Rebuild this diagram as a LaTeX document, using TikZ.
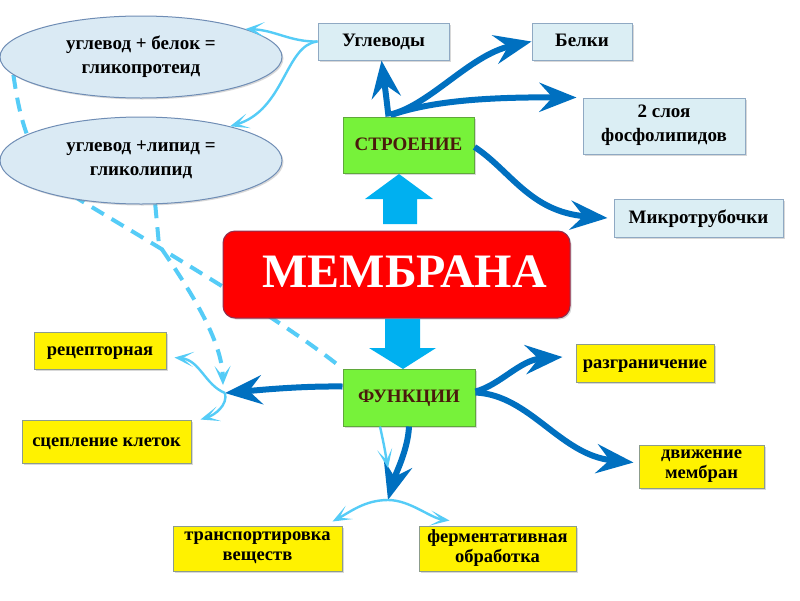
\documentclass[tikz,border=0pt]{standalone}
\usepackage{fontspec}
\setmainfont{Liberation Serif}
\usetikzlibrary{arrows.meta,shadows,shapes.geometric}
\definecolor{darkblue}{HTML}{0070C0}
\definecolor{lightblue}{HTML}{55CCF7}
\definecolor{blockblue}{HTML}{00B0F0}
\definecolor{boxblue}{HTML}{DBEEF4}
\definecolor{boxblueborder}{HTML}{8FA9C3}
\definecolor{ellfill}{HTML}{DAEAF4}
\definecolor{ellborder}{HTML}{6F8DB5}
\definecolor{greenfill}{HTML}{77F23A}
\definecolor{greenborder}{HTML}{5FA83A}
\definecolor{greentext}{HTML}{4A1A0C}
\definecolor{yellowborder}{HTML}{8C9C8C}
\definecolor{redborder}{HTML}{8E3050}
\newcommand\mystrutA{\rule[-5pt]{0pt}{20.6pt}}
\newcommand\mystrutB{\rule[-5pt]{0pt}{16.6pt}}
\pgfdeclarelayer{bg}
\pgfsetlayers{bg,main}
\begin{document}
\begin{tikzpicture}[x=1pt,y=-1pt,
  txt/.style={font=\bfseries\fontsize{19}{24}\selectfont, align=center, inner sep=0pt,
    execute at begin node=\mystrutA, execute at end node=\mystrutA},
  shad/.style={drop shadow={shadow xshift=1.5pt,shadow yshift=-1.5pt,opacity=0.3}},
  bluebox/.style={txt, draw=boxblueborder, fill=boxblue, line width=1pt, shad},
  greenbox/.style={txt, text=greentext, draw=greenborder, fill=greenfill, line width=1pt, shad},
  yellowbox/.style={txt, font=\bfseries\fontsize{18.5}{20}\selectfont, draw=yellowborder, fill=yellow, line width=1pt, shad,
    execute at begin node=\mystrutB, execute at end node=\mystrutB},
  ellbox/.style={txt, ellipse, draw=ellborder, fill=ellfill, line width=1pt, shad},
  darkarrow/.style={draw=darkblue, line width=6pt, -{Stealth[length=37pt,width=29pt,inset=13pt]}},
  lightarrow/.style={draw=lightblue, line width=2.4pt, -{Stealth[length=19pt,width=15pt,inset=11pt]}},
  dashline/.style={draw=lightblue, line width=4pt, dash pattern=on 14pt off 9pt},
  blockarrow/.style={fill=blockblue, draw=none}
]
\useasboundingbox (0,0) rectangle (800,600);

% nodes
\node[ellbox, minimum width=282pt, minimum height=82pt] (ell1) at (141,57) {углевод + белок =\\гликопротеид};
\node[ellbox, minimum width=282pt, minimum height=87pt] (ell2) at (141,160.5) {углевод +липид =\\гликолипид};
\node[bluebox, minimum width=131pt, minimum height=37pt] (ugl) at (383.5,41.5) {Углеводы};
\node[bluebox, minimum width=100pt, minimum height=37pt] (belki) at (582,41.5) {Белки};
\node[bluebox, minimum width=162pt, minimum height=56pt] (sloi) at (664,126) {2 слоя\\фосфолипидов};
\node[bluebox, minimum width=169pt, minimum height=38pt] (mikro) at (698.5,218) {Микротрубочки};
\node[greenbox, minimum width=131pt, minimum height=56pt] (stroen) at (408.5,145) {СТРОЕНИЕ};
\node[greenbox, minimum width=132pt, minimum height=57pt] (func) at (409,397.5) {ФУНКЦИИ};
\node[yellowbox, minimum width=138pt, minimum height=38pt] (razgr) at (645,363) {разграничение};
\node[yellowbox, minimum width=125pt, minimum height=43pt] (dvizh) at (701.5,466.5) {движение\\мембран};
\node[yellowbox, minimum width=132pt, minimum height=37pt] (recep) at (100,350.5) {рецепторная};
\node[yellowbox, minimum width=169pt, minimum height=43pt] (scepl) at (106.5,441.5) {сцепление клеток};
\node[yellowbox, minimum width=169pt, minimum height=45pt] (transp) at (257.5,548.5) {транспортировка\\веществ};
\node[yellowbox, minimum width=157pt, minimum height=45pt] (ferm) at (497.5,548.5) {ферментативная\\обработка};
\node[draw=redborder, fill=red, line width=1pt, rounded corners=12pt, minimum width=347pt, minimum height=87pt,
      inner sep=0pt, text height=34pt, text depth=9pt, text=white, font=\bfseries\fontsize{48}{50}\selectfont, shad] (membr) at (396.5,274.5) {\hspace{16pt}МЕМБРАНА};

% junction coordinates
\coordinate (j1) at (225,393);
\coordinate (j1d) at (223,385);
\coordinate (j2) at (388,500);
\coordinate (l1end) at (388,468);

% block arrows
\fill[blockarrow] (383,224) -- (383,199) -- (365,199) -- (399,174) -- (433,199) -- (417,199) -- (417,224) -- cycle;
\fill[blockarrow] (385,319) -- (385,348) -- (369,348) -- (403,369) -- (436,348) -- (420,348) -- (420,319) -- cycle;

% dashed lines (behind)
\begin{pgfonlayer}{bg}
\fill[white] (0,0) rectangle (800,600);
\draw[dashline] (ell1.188) .. controls (20,120) and (30,170) .. (80,200)
   .. controls (180,260) and (283,321) .. (func.north west);
\draw[dashline, -{Stealth[length=19pt,width=16pt,inset=10pt]}] (ell2.288) -- (159,245)
   .. controls (190,290) and (222,340) .. (j1d);
\end{pgfonlayer}

% dark blue arrows from СТРОЕНИЕ
\draw[darkarrow] ([xshift=-20pt]stroen.north) .. controls (386,95) .. ([xshift=-2pt]ugl.south);
\draw[darkarrow] ([xshift=-18pt,yshift=2pt]stroen.north) .. controls (430,105) and (470,55) .. (belki.west);
\draw[darkarrow] ([xshift=-16pt,yshift=2pt]stroen.north) .. controls (430,102) and (480,97) .. ([xshift=-6pt]sloi.north west);
\draw[darkarrow] ([yshift=-2pt]stroen.east) .. controls (510,170) and (530,212) .. ([xshift=-6pt]mikro.west);

% dark blue arrows from ФУНКЦИИ
\draw[darkarrow] ([yshift=11pt]func.west) .. controls (300,386) and (260,390) .. (j1);
\draw[darkarrow] ([yshift=6pt]func.east) .. controls (500,385) and (520,360) .. ([xshift=-13pt,yshift=6pt]razgr.west);
\draw[darkarrow] ([yshift=5pt]func.east) .. controls (530,395) and (560,455) .. ([xshift=-5pt,yshift=4pt]dvizh.west);
\draw[darkarrow] (func.south) .. controls (408,450) and (395,475) .. (j2);

% light blue arrows
\draw[lightarrow] (ugl.west) .. controls (290,42) and (275,30) .. (ell1.15);
\draw[lightarrow] (ugl.west) .. controls (285,45) and (285,110) .. (ell2.21);
\draw[lightarrow] ([xshift=-29pt]func.south) .. controls (384,445) .. (l1end);
\draw[lightarrow] (j2) .. controls (365,500) and (350,512) .. ([xshift=-10pt,yshift=4pt]transp.north east);
\draw[lightarrow] (j2) .. controls (410,500) and (430,518) .. ([xshift=31pt,yshift=5pt]ferm.north west);
\draw[lightarrow] (j1) .. controls (205,385) and (200,360) .. ([xshift=8pt,yshift=-7pt]recep.east);
\draw[lightarrow] (j1) .. controls (228,405) and (215,415) .. ([xshift=9pt]scepl.north east);
\end{tikzpicture}
\end{document}
